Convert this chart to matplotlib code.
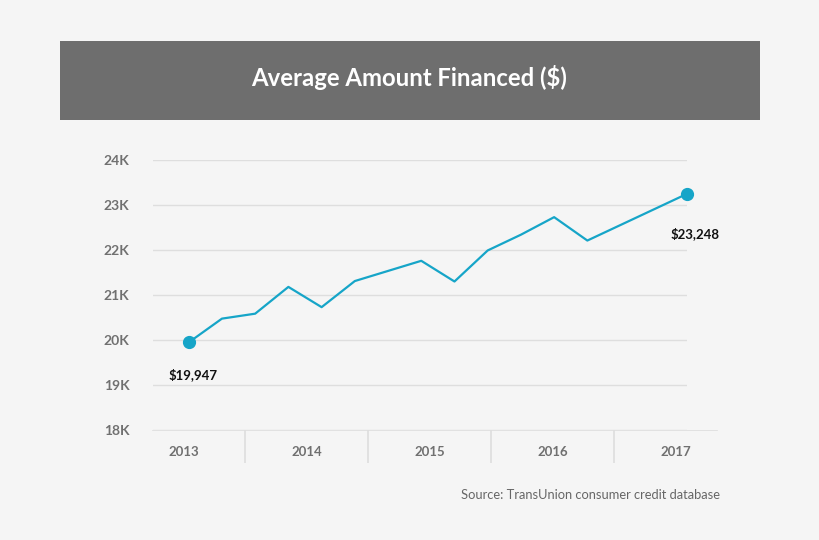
import matplotlib
matplotlib.use("Agg")
import matplotlib.pyplot as plt
from matplotlib.patches import Rectangle

# quarter index (0 = first quarter of 2013) and average amount financed, in $K
quarters = [0, 1, 2, 3, 4, 5, 7, 8, 9, 10, 11, 12, 15]
amounts = [19.947, 20.475, 20.585, 21.18, 20.73, 21.31, 21.76, 21.30,
           21.99, 22.34, 22.73, 22.21, 23.248]
years = ["2013", "2014", "2015", "2016", "2017"]
y_ticks = [18, 19, 20, 21, 22, 23, 24]
y_labels = ["18K", "19K", "20K", "21K", "22K", "23K", "24K"]
first_label = "$19,947"
last_label = "$23,248"
source = "Source: TransUnion consumer credit database"

BG = "#f5f5f5"
LINE = "#16a5c8"
GRID = "#dedede"
TICK = "#707070"
W, H = 820, 540

fig = plt.figure(figsize=(8.2, 5.4), dpi=100, facecolor=BG)

# title banner
fig.patches.append(Rectangle((60 / W, 1 - 120 / H), 700 / W, 79 / H,
                             transform=fig.transFigure, facecolor="#6e6e6e",
                             edgecolor="none", zorder=0))
fig.text(409 / W, 1 - 77 / H, "Average Amount Financed ($)", color="white",
         family="Lato", weight="bold", fontsize=17.2, ha="center", va="center")

# main line chart
ax = fig.add_axes([153 / W, 1 - 430 / H, 534 / W, 270 / H])
ax.set_facecolor(BG)
ax.plot(quarters, amounts, color=LINE, lw=1.6, zorder=3)
ax.plot([quarters[0], quarters[-1]], [amounts[0], amounts[-1]], "o",
        color=LINE, ms=8.5, zorder=4, clip_on=False)
ax.set_xlim(-1.076, 15)
ax.set_ylim(18, 24)
ax.set_yticks(y_ticks)
ax.set_yticklabels(y_labels, family="Lato", weight="bold", fontsize=10,
                   color=TICK)
ax.tick_params(axis="y", length=0, pad=17)
ax.set_xticks([])
ax.grid(axis="y", color=GRID, lw=1)
for s in ax.spines.values():
    s.set_visible(False)

ax.annotate(first_label, (quarters[0], amounts[0]), xytext=(4, -32),
            textcoords="offset pixels", ha="center", va="center",
            family="Lato", weight="bold", fontsize=9.5, color="#111111")
ax.annotate(last_label, (quarters[-1], amounts[-1]), xytext=(8, -40),
            textcoords="offset pixels", ha="center", va="center",
            family="Lato", weight="bold", fontsize=9.5, color="#111111")

# year band below the chart
bx = fig.add_axes([122 / W, 1 - 463 / H, 615 / W, 33 / H])
bx.set_facecolor("none")
bx.set_xlim(0, len(years))
bx.set_ylim(0, 1)
bx.axhline(1, xmin=31 / 615, xmax=595 / 615, color=GRID, lw=1.2)
for i in range(1, len(years)):
    bx.axvline(i, color=GRID, lw=1.2)
for i, yr in enumerate(years):
    bx.text(i + 0.5, 0.32, yr, ha="center", va="center", family="Lato",
            weight="bold", fontsize=9.5, color=TICK)
bx.axis("off")

fig.text(720 / W, 1 - 495 / H, source, ha="right", va="center",
         family="Lato", fontsize=9.3, color="#666666")

fig.savefig("out.png", dpi=100, facecolor=BG)
